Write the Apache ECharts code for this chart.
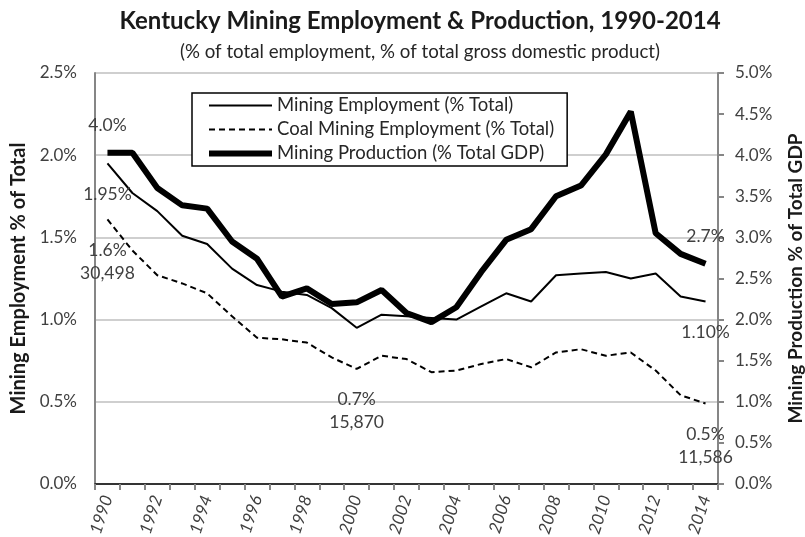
<!DOCTYPE html>
<html><head><meta charset="utf-8">
<script src="https://cdn.jsdelivr.net/npm/echarts@6/dist/echarts.min.js"></script>
<style>html,body{margin:0;padding:0;background:#fff}#c{width:805px;height:537px}</style>
</head><body><div id="c"></div>
<script>
const years = ['1990','1991','1992','1993','1994','1995','1996','1997','1998','1999','2000','2001','2002','2003','2004','2005','2006','2007','2008','2009','2010','2011','2012','2013','2014'];
const miningEmployment = [1.95,1.77,1.66,1.51,1.46,1.31,1.21,1.17,1.15,1.07,0.95,1.03,1.02,1.01,1.00,1.08,1.16,1.11,1.27,1.28,1.29,1.25,1.28,1.14,1.11];
const coalEmployment = [1.61,1.42,1.27,1.22,1.16,1.02,0.89,0.88,0.86,0.77,0.70,0.78,0.76,0.68,0.69,0.73,0.76,0.71,0.80,0.82,0.78,0.80,0.69,0.54,0.49];
const miningProduction = [4.03,4.03,3.60,3.39,3.35,2.95,2.74,2.28,2.38,2.19,2.21,2.36,2.08,1.97,2.15,2.58,2.97,3.10,3.50,3.63,4.01,4.53,3.05,2.80,2.68];
const leftTicks = [0,0.5,1.0,1.5,2.0,2.5];
const rightTicks = [0,0.5,1,1.5,2,2.5,3,3.5,4,4.5,5];
// annotations: [series, yearIndex, text, position]
const annotations = [
  ['prod',0,'4.0%','top'],
  ['emp',0,'1.95%','bottom'],
  ['coal',0,'1.6%\n30,498','bottom'],
  ['coal',10,'0.7%\n15,870','bottom'],
  ['prod',24,'2.7%','top'],
  ['emp',24,'1.10%','bottom'],
  ['coal',24,'0.5%\n11,586','bottom']
];
const FONT = 'Lato';
const LBL = '#404040';
function withLabels(key, arr){
  return arr.map((v,i)=>{
    const a = annotations.find(x=>x[0]===key && x[1]===i);
    if(!a) return v;
    return {value:v, label:{show:true, formatter:a[2], position:a[3], distance:a[3]==='top'?16:19,
      color:LBL, fontSize:17.5, fontFamily:FONT, lineHeight:23, align:'center'}};
  });
}
const chart = echarts.init(document.getElementById('c'), null, {renderer:'canvas'});
chart.setOption({
  animation:false,
  backgroundColor:'#fff',
  title:[
    {text:'Kentucky Mining Employment & Production, 1990-2014', left:415, top:4, textAlign:'center',
     textStyle:{fontFamily:FONT, fontWeight:'bold', fontSize:24, color:'#1a1a1a'}},
    {text:'(% of total employment, % of total gross domestic product)', left:415, top:37, textAlign:'center',
     textStyle:{fontFamily:FONT, fontWeight:'normal', fontSize:18.7, color:'#262626'}}
  ],
  legend:{
    orient:'vertical', left:192, top:93, itemGap:5, itemWidth:63, itemHeight:14,
    padding:[3,13,3,14], backgroundColor:'#fff', borderColor:'#000', borderWidth:1.5, borderRadius:0,
    itemStyle:{opacity:0},
    textStyle:{fontFamily:FONT, fontSize:18.5, color:'#262626'},
    data:[
      {name:'Mining Employment (% Total)'},
      {name:'Coal Mining Employment (% Total)'},
      {name:'Mining Production (% Total GDP)', lineStyle:{width:6}}
    ]
  },
  grid:{left:95, right:87, top:73, bottom:53, containLabel:false, outerBoundsMode:'none'},
  xAxis:[
    {type:'category', data:years, boundaryGap:true,
     axisLine:{lineStyle:{color:'#868686', width:2}},
     axisTick:{show:true, interval:0, length:6, lineStyle:{color:'#868686', width:2}},
     axisLabel:{interval:1, rotate:72, margin:12, color:LBL, fontFamily:FONT, fontSize:17, fontStyle:'italic'}},
    {type:'category', data:years, position:'top', boundaryGap:true,
     axisLine:{show:true, lineStyle:{color:'#1a1a1a', width:1.5}}, axisTick:{show:false}, axisLabel:{show:false}}
  ],
  yAxis:[
    {type:'value', min:leftTicks[0], max:leftTicks[leftTicks.length-1], interval:0.5, position:'left',
     name:'Mining Employment % of Total', nameLocation:'middle', nameGap:63, nameRotate:90,
     nameTextStyle:{fontFamily:FONT, fontWeight:'bold', fontSize:20, color:'#1a1a1a'},
     axisLine:{show:true, lineStyle:{color:'#868686', width:2}},
     axisTick:{show:false},
     axisLabel:{margin:18, color:LBL, fontFamily:FONT, fontSize:17, formatter:v=>v.toFixed(1)+'%'},
     splitLine:{show:true, lineStyle:{color:'#bfbfbf', width:1.5}}},
    {type:'value', min:rightTicks[0], max:rightTicks[rightTicks.length-1], interval:0.5, position:'right',
     name:'Mining Production % of Total GDP', nameLocation:'middle', nameGap:68, nameRotate:90,
     nameTextStyle:{fontFamily:FONT, fontWeight:'bold', fontSize:19, color:'#1a1a1a'},
     axisLine:{show:true, lineStyle:{color:'#868686', width:2}},
     axisTick:{show:true, length:6, inside:false, lineStyle:{color:'#868686', width:2}},
     axisLabel:{margin:17, color:LBL, fontFamily:FONT, fontSize:17, formatter:v=>v.toFixed(1)+'%'},
     splitLine:{show:false}}
  ],
  series:[
    {name:'Mining Employment (% Total)', type:'line', yAxisIndex:0, symbol:'circle', symbolSize:0.1, showSymbol:true, z:3,
     lineStyle:{color:'#000', width:2}, itemStyle:{color:'#000'}, data:withLabels('emp', miningEmployment)},
    {name:'Coal Mining Employment (% Total)', type:'line', yAxisIndex:0, symbol:'circle', symbolSize:0.1, showSymbol:true, z:3,
     lineStyle:{color:'#000', width:2, type:[6,4]}, itemStyle:{color:'#000'}, data:withLabels('coal', coalEmployment)},
    {name:'Mining Production (% Total GDP)', type:'line', yAxisIndex:1, symbol:'circle', symbolSize:0.1, showSymbol:true, z:2,
     lineStyle:{color:'#000', width:6}, itemStyle:{color:'#000'}, data:withLabels('prod', miningProduction)}
  ]
});
</script></body></html>
